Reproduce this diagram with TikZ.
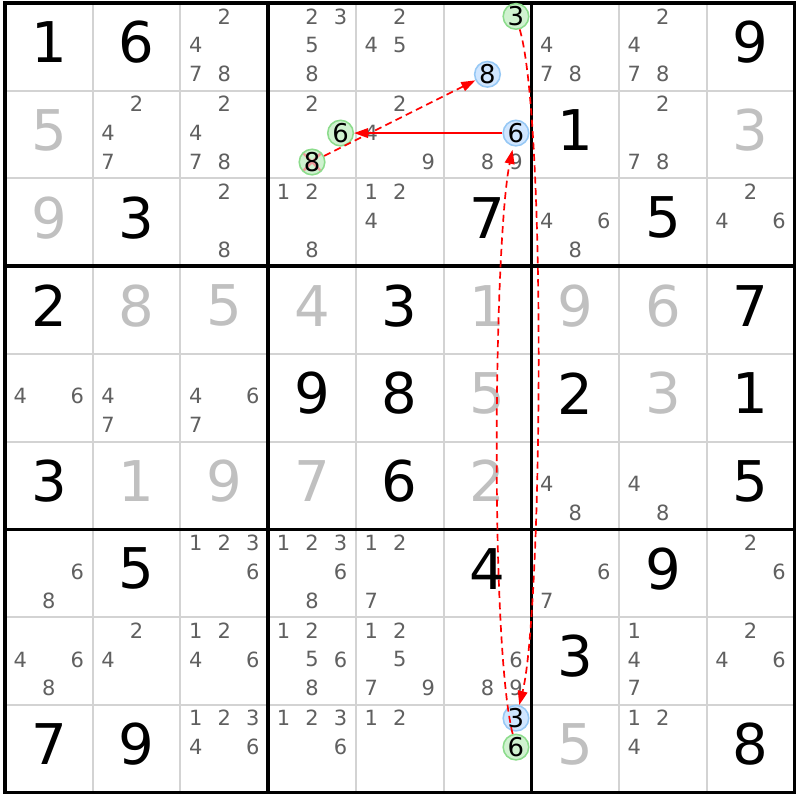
\documentclass[tikz,border=0pt]{standalone}
\usepackage{fontspec}
\setmainfont{DejaVu Sans}
\usepackage{tikz}
\usetikzlibrary{arrows.meta}
\usepackage{xcolor}
\definecolor{sdsolved}{RGB}{192,192,192}
\definecolor{sdcand}{RGB}{96,96,96}
\definecolor{sdthin}{RGB}{211,211,211}
\definecolor{sdgreen}{RGB}{140,220,140}
\definecolor{sdgreenfill}{RGB}{208,242,208}
\definecolor{sdblue}{RGB}{150,200,245}
\definecolor{sdbluefill}{RGB}{208,230,255}
\definecolor{sdred}{RGB}{255,0,0}
\definecolor{sdcross}{RGB}{240,155,155}
\tikzstyle{given} = [inner sep=0pt, font=\fontsize{18.2}{18.2}\selectfont, text=black]
\tikzstyle{solved} = [given, text=sdsolved]
\tikzstyle{cand} = [inner sep=0pt, font=\fontsize{6.8}{6.8}\selectfont, text=sdcand]
\tikzstyle{oncircle} = [circle, minimum size=0.26cm, inner sep=0pt, line width=0.5pt, font=\fontsize{8.4}{8.4}\selectfont, text=black]
\tikzstyle{ongreen} = [oncircle, draw=sdgreen, fill=sdgreenfill]
\tikzstyle{onblue} = [oncircle, draw=sdblue, fill=sdbluefill]
\tikzstyle{struck} = [path picture={\draw[sdcross, line width=0.8pt] (path picture bounding box.south west) -- (path picture bounding box.north east) (path picture bounding box.north west) -- (path picture bounding box.south east);}]
\tikzstyle{strong} = [sdred, line width=0.55pt, -{Triangle[length=0.16cm, width=0.11cm]}]
\tikzstyle{weak} = [strong, dash pattern=on 0.08cm off 0.05cm]

\begin{document}
\begin{tikzpicture}
\path[use as bounding box, fill=white] (-0.057,0.034) rectangle (9.063,-9.086);

% Grid
\foreach \i in {1,2,4,5,7,8} {
  \draw[sdthin, line width=0.65pt] (\i,0) -- (\i,-9);
  \draw[sdthin, line width=0.65pt] (0,-\i) -- (9,-\i);
}
\foreach \i in {0,3,6,9} {
  \draw[black, line width=1.1pt] (\i,0.017) -- (\i,-9.017);
  \draw[black, line width=1.1pt] (-0.017,-\i) -- (9.017,-\i);
}

% Givens
\foreach \r/\c/\d in {1/1/1, 1/2/6, 1/9/9, 2/7/1, 3/2/3, 3/6/7, 3/8/5, 4/1/2, 4/5/3, 4/9/7,
    5/4/9, 5/5/8, 5/7/2, 5/9/1, 6/1/3, 6/5/6, 6/9/5, 7/2/5, 7/6/4, 7/8/9, 8/7/3,
    9/1/7, 9/2/9, 9/9/8}
  \node[given] (g\r\c) at ({\c-0.5},{0.55-\r}) {\d};

% Solved cells
\foreach \r/\c/\d in {2/1/5, 2/9/3, 3/1/9, 4/2/8, 4/3/5, 4/4/4, 4/6/1, 4/7/9, 4/8/6,
    5/6/5, 5/8/3, 6/2/1, 6/3/9, 6/4/7, 6/6/2, 9/7/5}
  \node[solved] (s\r\c) at ({\c-0.5},{0.55-\r}) {\d};

% Candidates
\foreach \r/\c/\ds in {1/3/{2,4,7,8}, 1/4/{2,3,5,8}, 1/5/{2,4,5}, 1/7/{4,7,8}, 1/8/{2,4,7,8},
    2/2/{2,4,7}, 2/3/{2,4,7,8}, 2/4/{2}, 2/5/{2,4,9}, 2/6/{8,9}, 2/8/{2,7,8},
    3/3/{2,8}, 3/4/{1,2,8}, 3/5/{1,2,4}, 3/7/{4,6,8}, 3/9/{2,4,6},
    5/1/{4,6}, 5/2/{4,7}, 5/3/{4,6,7}, 6/7/{4,8}, 6/8/{4,8},
    7/1/{6,8}, 7/3/{1,2,3,6}, 7/4/{1,2,3,6,8}, 7/5/{1,2,7}, 7/7/{6,7}, 7/9/{2,6},
    8/1/{4,6,8}, 8/2/{2,4}, 8/3/{1,2,4,6}, 8/4/{1,2,5,6,8}, 8/5/{1,2,5,7,9}, 8/6/{6,8,9},
    8/8/{1,4,7}, 8/9/{2,4,6},
    9/3/{1,2,3,4,6}, 9/4/{1,2,3,6}, 9/5/{1,2}, 9/8/{1,2,4}} {
  \foreach \d in \ds {
    \pgfmathtruncatemacro{\kx}{mod(\d-1,3)}
    \pgfmathtruncatemacro{\ky}{div(\d-1,3)}
    \node[cand] (k\r\c\d) at ({\c-0.5+(\kx-1)*0.325},{0.517-\r-(\ky-1)*0.33}) {\d};
  }
}

% Chain candidates
\node[ongreen] (r1c6n3) at (5.825,-0.153) {3};
\node[onblue] (r1c6n8) at (5.5,-0.813) {8};
\node[ongreen] (r2c4n6) at (3.825,-1.483) {6};
\node[ongreen, struck] (r2c4n8) at (3.5,-1.813) {8};
\node[onblue] (r2c6n6) at (5.825,-1.483) {6};
\node[onblue] (r9c6n3) at (5.825,-8.153) {3};
\node[ongreen] (r9c6n6) at (5.825,-8.483) {6};

% Links
\draw[weak] (r2c4n8) -- (r1c6n8);
\draw[strong] (r2c6n6) -- (r2c4n6);
\draw[weak, shorten >=0.04cm] (r9c6n6) .. controls +(-0.3,1.2) and +(-0.25,-1.2) .. (r2c6n6);
\draw[weak] (r1c6n3) .. controls +(0.35,-1.2) and +(0.3,1.2) .. (r9c6n3);
\end{tikzpicture}
\end{document}
